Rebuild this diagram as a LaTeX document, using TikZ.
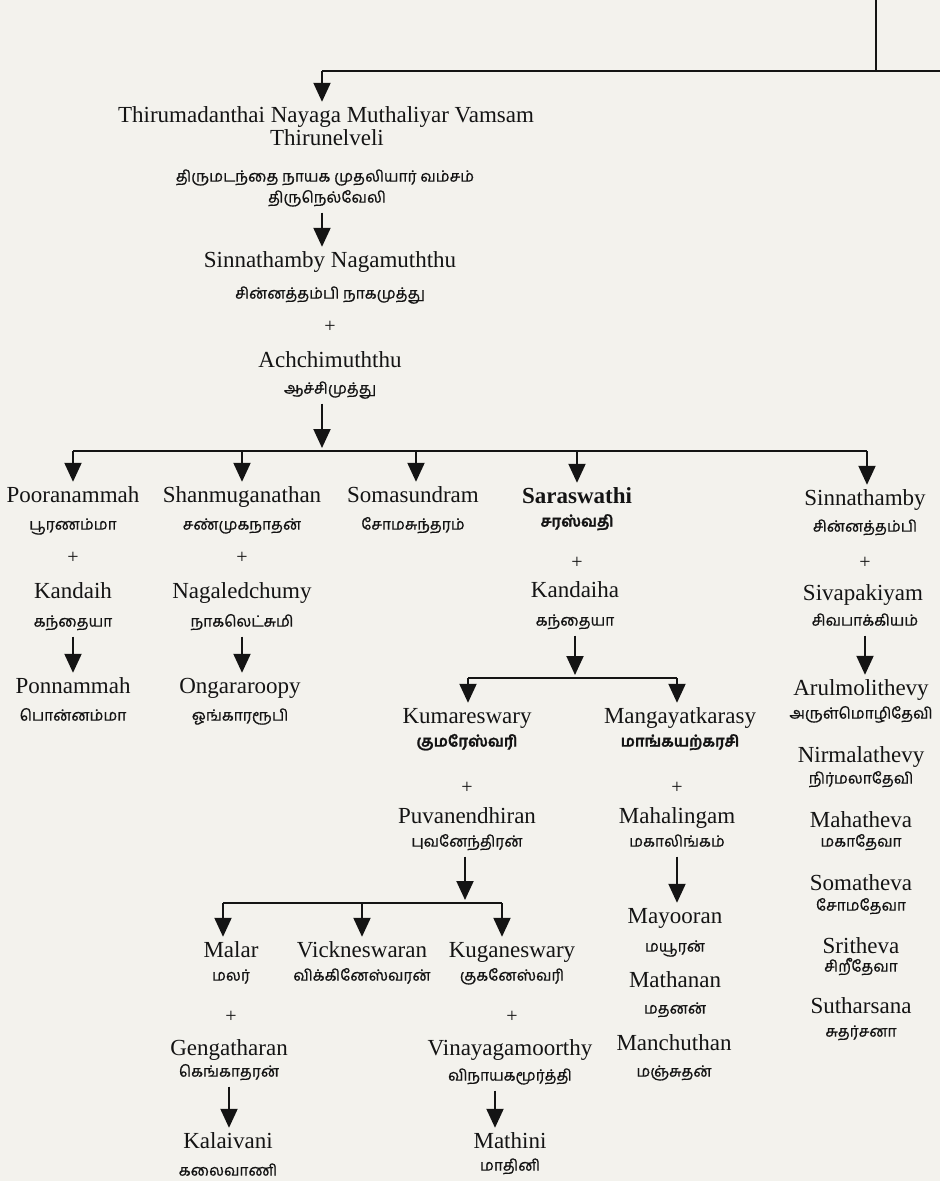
\documentclass[tikz,border=0pt]{standalone}
\usepackage{fontspec}
\setmainfont{Liberation Serif}
\newfontfamily\tam[Script=Tamil, UprightFeatures={FakeBold=0.8}, BoldFeatures={FakeBold=1.4}]{Hind Madurai}
\usetikzlibrary{arrows.meta}
\definecolor{paper}{RGB}{243,242,237}
\definecolor{ink}{RGB}{20,20,20}
\tikzset{
  en/.style={font=\fontsize{23}{23}\selectfont, text=ink, inner sep=0pt, text height=16pt, text depth=5pt},
  ta/.style={font=\tam\fontsize{15.5}{15.5}\selectfont, text=ink, inner sep=0pt, text height=11pt, text depth=3.8pt},
  tab/.style={ta, font=\tam\bfseries\fontsize{15.5}{15.5}\selectfont},
  pl/.style={font=\fontsize{20}{20}\selectfont, text=ink, inner sep=0pt},
  ln/.style={draw=ink, line width=2pt},
  arr/.style={ln, -{Triangle[width=17pt,length=19pt]}, shorten >=4.5pt},
  dn/.style={arr, shorten <=6pt}
}
\begin{document}
\begin{tikzpicture}[x=1pt,y=-1pt]
\fill[paper] (0,0) rectangle (940,1181);
\useasboundingbox (0,0) rectangle (940,1181);
% top
\node[en] (n1) at (326,117) {Thirumadanthai Nayaga Muthaliyar Vamsam};
\node[en] (n2) at (327,140) {Thirunelveli};
\node[ta] (n3) at (325,178) {திருமடந்தை நாயக முதலியார் வம்சம்};
\node[ta] (n4) at (327,199) {திருநெல்வேலி};
\coordinate (tA) at (876,0);
\coordinate (tB) at (876,71);
\coordinate (tL) at (322,71);
\coordinate (tR) at (940,71);
\draw[ln] (tA) -- (tB);
\draw[ln] (tL) -- (tR);
\draw[arr] (tL) -- (tL |- n1.north);
% Sinnathamby Nagamuththu
\node[en] (sn) at (330,262) {Sinnathamby Nagamuththu};
\node[ta] (snt) at (330,295) {சின்னத்தம்பி நாகமுத்து};
\node[pl] (p0) at (330,327) {+};
\node[en] (ac) at (330,362) {Achchimuththu};
\node[ta] (act) at (330,390) {ஆச்சிமுத்து};
\coordinate (c0) at (322,0);
\draw[dn] (c0 |- n4.south) -- (c0 |- sn.north);
% bar 1
\coordinate (b1a) at (73,451);
\coordinate (b1b) at (242,451);
\coordinate (b1c) at (416,451);
\coordinate (b1d) at (577,451);
\coordinate (b1e) at (867,451);
\coordinate (b1m) at (322,451);
\draw[dn, shorten >=3pt] (c0 |- act.south) -- (b1m);
\draw[ln] (b1a) -- (b1e);
% column A
\node[en] (pa1) at (73,497) {Pooranammah};
\node[ta] (pa2) at (73,526) {பூரணம்மா};
\node[pl] (pa3) at (73,558) {+};
\node[en] (pa4) at (73,593) {Kandaih};
\node[ta] (pa5) at (73,623) {கந்தையா};
\node[en] (pa6) at (73,688) {Ponnammah};
\node[ta] (pa7) at (73,717) {பொன்னம்மா};
\draw[arr] (b1a) -- (b1a |- pa1.north);
\draw[dn] (pa5.south) -- (pa5.south |- pa6.north);
% column B
\node[en] (pb1) at (242,497) {Shanmuganathan};
\node[ta] (pb2) at (242,526) {சண்முகநாதன்};
\node[pl] (pb3) at (242,558) {+};
\node[en] (pb4) at (242,593) {Nagaledchumy};
\node[ta] (pb5) at (242,623) {நாகலெட்சுமி};
\node[en] (pb6) at (240,688) {Ongararoopy};
\node[ta] (pb7) at (240,717) {ஓங்காரரூபி};
\draw[arr] (b1b) -- (b1b |- pb1.north);
\draw[dn] (pb5.south) -- (pb5.south |- pb6.north);
% column C
\node[en] (pc1) at (413,497) {Somasundram};
\node[ta] (pc2) at (413,526) {சோமசுந்தரம்};
\draw[arr] (b1c) -- (b1c |- pc1.north);
% column D
\node[en, font=\bfseries\fontsize{23}{23}\selectfont] (pd1) at (577,498) {Saraswathi};
\node[tab] (pd2) at (577,523) {சரஸ்வதி};
\node[pl] (pd3) at (577,563) {+};
\node[en] (pd4) at (575,592) {Kandaiha};
\node[ta] (pd5) at (575,622) {கந்தையா};
\draw[arr] (b1d) -- (b1d |- pd1.north);
% column E
\node[en] (pe1) at (865,500) {Sinnathamby};
\node[ta] (pe2) at (865,528) {சின்னத்தம்பி};
\node[pl] (pe3) at (865,563) {+};
\node[en] (pe4) at (863,595) {Sivapakiyam};
\node[ta] (pe5) at (865,622) {சிவபாக்கியம்};
\node[en] (pe6) at (861,690) {Arulmolithevy};
\node[ta] (pe7) at (861,715) {அருள்மொழிதேவி};
\node[en] (pe8) at (861,757) {Nirmalathevy};
\node[ta] (pe9) at (861,780) {நிர்மலாதேவி};
\node[en] (pe10) at (861,822) {Mahatheva};
\node[ta] (pe11) at (861,843) {மகாதேவா};
\node[en] (pe12) at (861,885) {Somatheva};
\node[ta] (pe13) at (861,907) {சோமதேவா};
\node[en] (pe14) at (861,948) {Sritheva};
\node[ta] (pe15) at (861,968) {சிறீதேவா};
\node[en] (pe16) at (861,1008) {Sutharsana};
\node[ta] (pe17) at (861,1033) {சுதர்சனா};
\draw[arr] (b1e) -- (b1e |- pe1.north);
\draw[dn] (pe5.south) -- (pe5.south |- pe6.north);
% bar 2
\coordinate (b2a) at (468,678);
\coordinate (b2b) at (677,678);
\coordinate (b2m) at (575,678);
\draw[dn, shorten >=3pt] (pd5.south) -- (b2m);
\draw[ln] (b2a) -- (b2b);
% column F
\node[en] (pf1) at (467,718) {Kumareswary};
\node[tab] (pf2) at (467,743) {குமரேஸ்வரி};
\node[pl] (pf3) at (467,788) {+};
\node[en] (pf4) at (467,818) {Puvanendhiran};
\node[ta] (pf5) at (467,843) {புவனேந்திரன்};
\draw[arr] (b2a) -- (b2a |- pf1.north);
% column G
\node[en] (pg1) at (680,718) {Mangayatkarasy};
\node[tab] (pg2) at (680,743) {மாங்கயற்கரசி};
\node[pl] (pg3) at (677,788) {+};
\node[en] (pg4) at (677,818) {Mahalingam};
\node[ta] (pg5) at (677,843) {மகாலிங்கம்};
\node[en] (pg6) at (675,918) {Mayooran};
\node[ta] (pg7) at (675,948) {மயூரன்};
\node[en] (pg8) at (675,982) {Mathanan};
\node[ta] (pg9) at (675,1010) {மதனன்};
\node[en] (pg10) at (674,1045) {Manchuthan};
\node[ta] (pg11) at (674,1073) {மஞ்சுதன்};
\draw[arr] (b2b) -- (b2b |- pg1.north);
\draw[dn] (pg5.south) -- (pg5.south |- pg6.north);
% bar 3
\coordinate (b3a) at (223,903);
\coordinate (b3b) at (362,903);
\coordinate (b3c) at (502,903);
\coordinate (b3m) at (465,903);
\draw[dn, shorten >=3pt] (b3m |- pf5.south) -- (b3m);
\draw[ln] (b3a) -- (b3c);
% column H
\node[en] (ph1) at (231,952) {Malar};
\node[ta] (ph2) at (231,977) {மலர்};
\node[pl] (ph3) at (231,1017) {+};
\node[en] (ph4) at (229,1050) {Gengatharan};
\node[ta] (ph5) at (229,1073) {கெங்காதரன்};
\node[en] (ph6) at (228,1143) {Kalaivani};
\node[ta] (ph7) at (228,1172) {கலைவாணி};
\draw[arr] (b3a) -- (b3a |- ph1.north);
\draw[dn] (ph5.south) -- (ph5.south |- ph6.north);
% column I
\node[en] (pi1) at (362,952) {Vickneswaran};
\node[ta] (pi2) at (362,977) {விக்கினேஸ்வரன்};
\draw[arr] (b3b) -- (b3b |- pi1.north);
% column J
\node[en] (pj1) at (512,952) {Kuganeswary};
\node[ta] (pj2) at (512,977) {குகனேஸ்வரி};
\node[pl] (pj3) at (512,1017) {+};
\node[en] (pj4) at (510,1050) {Vinayagamoorthy};
\node[ta] (pj5) at (510,1077) {விநாயகமூர்த்தி};
\node[en] (pj6) at (510,1143) {Mathini};
\node[ta] (pj7) at (510,1167) {மாதினி};
\draw[arr] (b3c) -- (b3c |- pj1.north);
\coordinate (cj) at (495,0);
\draw[dn] (cj |- pj5.south) -- (cj |- pj6.north);
\end{tikzpicture}
\end{document}
